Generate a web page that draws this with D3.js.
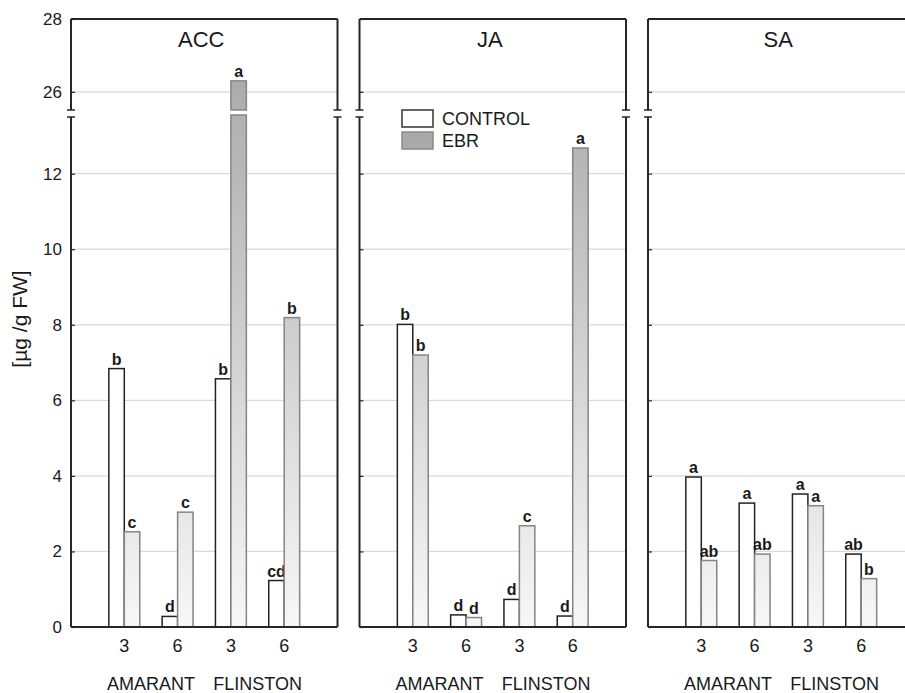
<!DOCTYPE html>
<html>
<head>
<meta charset="utf-8">
<script src="https://cdn.jsdelivr.net/npm/d3@7"></script>
<style>
  body { margin: 0; background: #fff; }
  svg text { font-family: "Liberation Sans", Arial, sans-serif; fill: #1a1a1a; }
</style>
</head>
<body>
<div id="chart"></div>
<script>
// data
var panels = ["ACC", "JA", "SA"];
var groups = ["AMARANT 3", "AMARANT 6", "FLINSTON 3", "FLINSTON 6"];
var dayLabels = ["3", "6", "3", "6"];
var cultivars = ["AMARANT", "FLINSTON"];
var series = ["CONTROL", "EBR"];

var accControl = [6.84, 0.28, 6.57, 1.23];
var accEBR = [2.52, 3.04, 26.3, 8.19];
var jaControl = [8.01, 0.32, 0.73, 0.29];
var jaEBR = [7.20, 0.25, 2.68, 12.68];
var saControl = [3.97, 3.28, 3.52, 1.93];
var saEBR = [1.76, 1.93, 3.21, 1.28];

var accControlLetters = ["b", "d", "b", "cd"];
var accEBRLetters = ["c", "c", "a", "b"];
var jaControlLetters = ["b", "d", "d", "d"];
var jaEBRLetters = ["b", "d", "c", "a"];
var saControlLetters = ["a", "a", "a", "ab"];
var saEBRLetters = ["ab", "ab", "a", "b"];

var lowerTicks = [0, 2, 4, 6, 8, 10, 12];
var upperTicks = [26, 28];

var panelData = [
  {name: "ACC", control: accControl, ebr: accEBR, cl: accControlLetters, el: accEBRLetters},
  {name: "JA", control: jaControl, ebr: jaEBR, cl: jaControlLetters, el: jaEBRLetters},
  {name: "SA", control: saControl, ebr: saEBR, cl: saControlLetters, el: saEBRLetters}
];

// sizes
var W = 905, H = 693;
var plotTop = 19, plotBottom = 627, breakHi = 110, breakLo = 117;
var left = 71, panelW = 266.5, gap = 22;

var svg = d3.select("#chart").append("svg")
    .attr("width", W)
    .attr("height", H);

var defs = svg.append("defs");
var grad = defs.append("linearGradient")
    .attr("id", "ebrGrad")
    .attr("gradientUnits", "userSpaceOnUse")
    .attr("x1", 0).attr("y1", plotTop).attr("x2", 0).attr("y2", plotBottom);
grad.append("stop").attr("offset", 0).attr("stop-color", "#a3a3a3");
grad.append("stop").attr("offset", 1).attr("stop-color", "#f7f7f7");

// scales
var totalW = 3 * panelW + 2 * gap;
var xPanel = d3.scaleBand()
    .domain(panels)
    .range([left, left + totalW])
    .paddingInner(gap / (panelW + gap))
    .paddingOuter(0);

var xGroup = d3.scalePoint()
    .domain(groups)
    .range([0, panelW])
    .padding(1);

var barW = xGroup.step() * 0.29;

var yLow = d3.scaleLinear().domain([0, 13.5]).range([plotBottom, breakLo]);
var yUp = d3.scaleLinear().domain([25.5, 28]).range([breakHi, plotTop]);

var lineCol = "#262626";

panelData.forEach(function(p, pi) {
  var x0 = xPanel(p.name);
  var g = svg.append("g").attr("transform", "translate(" + x0 + ",0)");

  // gridlines
  g.selectAll(".gridLow")
    .data(lowerTicks.filter(function(t) { return t > 0; }))
    .enter().append("line")
      .attr("x1", 0).attr("x2", panelW)
      .attr("y1", function(d) { return yLow(d); })
      .attr("y2", function(d) { return yLow(d); })
      .attr("stroke", "#d9d9d9").attr("stroke-width", 1.2);
  g.selectAll(".gridUp")
    .data(upperTicks.filter(function(t) { return t < 28; }))
    .enter().append("line")
      .attr("x1", 0).attr("x2", panelW)
      .attr("y1", function(d) { return yUp(d); })
      .attr("y2", function(d) { return yUp(d); })
      .attr("stroke", "#d9d9d9").attr("stroke-width", 1.2);

  // axes (ticks inside, labels only on first panel)
  var axLow = d3.axisLeft(yLow).tickValues(lowerTicks).tickSize(-4).tickPadding(9);
  var axUp = d3.axisLeft(yUp).tickValues(upperTicks).tickSize(-4).tickPadding(9)
      .tickFormat(d3.format("d"));
  [axLow, axUp].forEach(function(ax) {
    var a = g.append("g").call(ax);
    a.select(".domain").remove();
    a.selectAll(".tick line").attr("stroke", lineCol).attr("stroke-width", 1.2);
    if (pi == 0) {
      a.selectAll(".tick text")
        .style("font-size", "17px")
        .attr("fill", "#1a1a1a");
    } else {
      a.selectAll(".tick text").remove();
    }
  });

  // bars
  var bars = [];
  groups.forEach(function(gname, i) {
    bars.push({g: gname, v: p.control[i], lab: p.cl[i], s: "CONTROL", x: xGroup(gname) - barW});
    bars.push({g: gname, v: p.ebr[i], lab: p.el[i], s: "EBR", x: xGroup(gname)});
  });

  bars.forEach(function(b) {
    var fill = b.s == "EBR" ? "url(#ebrGrad)" : "#fff";
    var stroke = b.s == "EBR" ? "#858585" : "#222";
    var topY;
    if (b.v > 13.5) {
      topY = yUp(b.v);
      g.append("rect")
        .attr("x", b.x).attr("width", barW)
        .attr("y", yLow(13.5) - 2).attr("height", plotBottom - yLow(13.5) + 2)
        .attr("fill", fill).attr("stroke", stroke).attr("stroke-width", 1.5);
      g.append("rect")
        .attr("x", b.x).attr("width", barW)
        .attr("y", topY).attr("height", yUp(25.5) - topY)
        .attr("fill", fill).attr("stroke", stroke).attr("stroke-width", 1.5);
    } else {
      topY = yLow(b.v);
      g.append("rect")
        .attr("x", b.x).attr("width", barW)
        .attr("y", topY).attr("height", plotBottom - topY)
        .attr("fill", fill).attr("stroke", stroke).attr("stroke-width", 1.5);
    }
    g.append("text")
      .attr("x", b.x + barW / 2)
      .attr("y", topY - 4)
      .attr("text-anchor", "middle")
      .style("font-size", "16px")
      .style("font-weight", "bold")
      .text(b.lab);
  });

  // frame
  g.append("line").attr("x1", 0).attr("x2", panelW).attr("y1", plotBottom).attr("y2", plotBottom)
    .attr("stroke", lineCol).attr("stroke-width", 2);
  g.append("line").attr("x1", 0).attr("x2", panelW).attr("y1", plotTop).attr("y2", plotTop)
    .attr("stroke", lineCol).attr("stroke-width", 2);
  [0, panelW].forEach(function(ex) {
    g.append("line").attr("x1", ex).attr("x2", ex).attr("y1", plotTop).attr("y2", breakHi)
      .attr("stroke", lineCol).attr("stroke-width", 2);
    g.append("line").attr("x1", ex).attr("x2", ex).attr("y1", breakLo).attr("y2", plotBottom)
      .attr("stroke", lineCol).attr("stroke-width", 2);
    [breakHi, breakLo].forEach(function(by) {
      g.append("line").attr("x1", ex - 4).attr("x2", ex + 4).attr("y1", by).attr("y2", by)
        .attr("stroke", lineCol).attr("stroke-width", 1.5);
    });
  });

  // title
  g.append("text")
    .attr("x", panelW / 2 - 3)
    .attr("y", 47)
    .attr("text-anchor", "middle")
    .style("font-size", "22px")
    .text(p.name);

  // x labels
  g.selectAll(".day")
    .data(groups)
    .enter().append("text")
      .attr("x", function(d) { return xGroup(d); })
      .attr("y", 652)
      .attr("text-anchor", "middle")
      .style("font-size", "18px")
      .text(function(d, i) { return dayLabels[i]; });

  cultivars.forEach(function(c, ci) {
    var mid = (xGroup(groups[ci * 2]) + xGroup(groups[ci * 2 + 1])) / 2;
    g.append("text")
      .attr("x", mid)
      .attr("y", 690)
      .attr("text-anchor", "middle")
      .style("font-size", "18px")
      .text(c);
  });
});

// legend
var lx = 402, ly = 110;
var legend = svg.append("g").attr("transform", "translate(" + lx + "," + ly + ")");
series.forEach(function(s, i) {
  legend.append("rect")
    .attr("x", 0).attr("y", i * 22)
    .attr("width", 31).attr("height", 17)
    .attr("fill", s == "EBR" ? "#a9a9a9" : "#fff")
    .attr("stroke", s == "EBR" ? "#8a8a8a" : "#333")
    .attr("stroke-width", 1.5);
  legend.append("text")
    .attr("x", 40).attr("y", i * 22 + 15)
    .style("font-size", "18px")
    .text(s);
});

// y title
svg.append("text")
  .attr("transform", "translate(27,319) rotate(-90)")
  .attr("text-anchor", "middle")
  .style("font-size", "21px")
  .text("[µg /g FW]");
</script>
</body>
</html>
